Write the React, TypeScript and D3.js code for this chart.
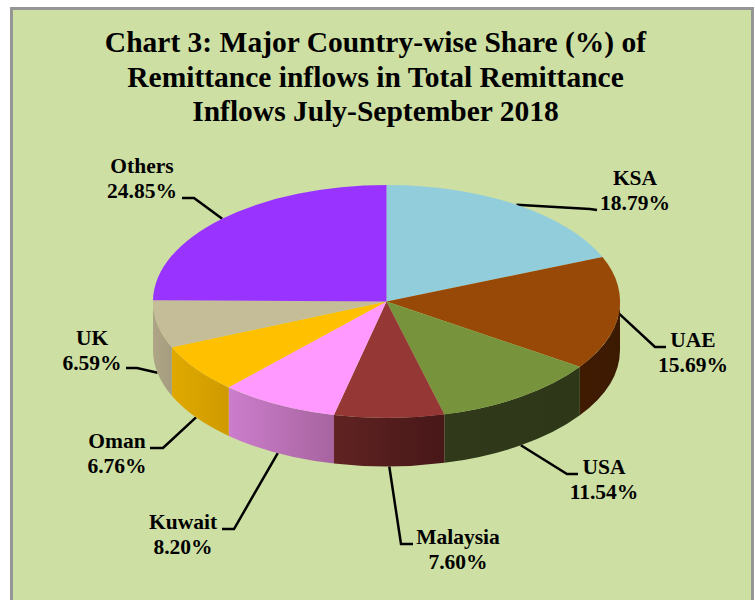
import React from 'react';
import * as d3 from 'd3';

const countries = ['KSA', 'UAE', 'USA', 'Malaysia', 'Kuwait', 'Oman', 'UK', 'Others'];
const shares = [18.79, 15.69, 11.54, 7.6, 8.2, 6.76, 6.59, 24.85];
const topColors = ['#92cddc', '#984807', '#77933c', '#953735', '#ff99ff', '#ffc000', '#c4bd97', '#9933ff'];
const wallFrom = ['#92cddc', '#401b02', '#30391a', '#602322', '#cc7dcc', '#e0a900', '#ada585', '#9933ff'];
const wallTo = ['#92cddc', '#3c1a02', '#2e3718', '#481718', '#a7649f', '#cf9a00', '#a59d7f', '#9933ff'];
const titleLines = [
  'Chart 3: Major Country-wise Share (%) of',
  'Remittance inflows in Total Remittance',
  'Inflows July-September 2018'
];

const width = 755;
const height = 600;
const cx = 386.5;
const cy = 301.5;
const rx = 233.5;
const ry = 116.5;
const depth = 48.5;

// leader elbow + end, label centre/baseline, and whether the leader starts on the side wall
const labelLayout = [
  { elbow: [590, 209], end: [597, 210], x: 635, y: 185, wall: false },
  { elbow: [655, 347], end: [666, 347], x: 693, y: 347, wall: false },
  { elbow: [567, 474], end: [578, 474], x: 604, y: 474, wall: true },
  { elbow: [401, 544], end: [413, 544], x: 458, y: 544, wall: true },
  { elbow: [234, 529], end: [222, 529], x: 183, y: 529, wall: true },
  { elbow: [163, 448], end: [150, 448], x: 117, y: 448, wall: true },
  { elbow: [137, 368], end: [126, 368], x: 92, y: 345, wall: true },
  { elbow: [194, 198], end: [182, 198], x: 142, y: 173, wall: false }
];

const edge = (a: number, dy = 0): [number, number] => [
  cx + rx * Math.sin(a),
  cy - ry * Math.cos(a) + dy
];

export default function App() {
  const slices = d3.pie<number>().sort(null).value(d => d)(shares);
  const arc = d3.arc<d3.PieArcDatum<number>>().innerRadius(0).outerRadius(1);

  const walls = slices
    .map((s, i) => ({ i, a0: Math.max(s.startAngle, Math.PI / 2), a1: Math.min(s.endAngle, 1.5 * Math.PI) }))
    .filter(w => w.a1 > w.a0);

  const wallPath = (a0: number, a1: number) => {
    const p0 = edge(a0);
    const p1 = edge(a1);
    const big = a1 - a0 > Math.PI ? 1 : 0;
    return `M${p0}A${rx},${ry} 0 ${big} 1 ${p1}L${p1[0]},${p1[1] + depth}A${rx},${ry} 0 ${big} 0 ${p0[0]},${p0[1] + depth}Z`;
  };

  return (
    <svg width={width} height={height} style={{ position: 'absolute', left: 0, top: 0, fontFamily: '"Liberation Serif"', fontWeight: 700 }}>
      <defs>
        {walls.map(w => (
          <linearGradient key={w.i} id={`wall${w.i}`} x1="0" x2="1" y1="0" y2="0">
            <stop offset="0" stopColor={wallFrom[w.i]} />
            <stop offset="1" stopColor={wallTo[w.i]} />
          </linearGradient>
        ))}
      </defs>
      <rect x={11.5} y={8.5} width={741} height={600} fill="#cddfa3" stroke="#969696" strokeWidth={3} />

      {titleLines.map((t, i) => (
        <text key={t} x={375.5} y={52 + i * 34.5} textAnchor="middle" fontSize={29.5}>{t}</text>
      ))}

      {slices.map((s, i) => {
        const mid = (s.startAngle + s.endAngle) / 2;
        const l = labelLayout[i];
        const start = edge(mid, l.wall ? depth : 0);
        return (
          <path key={i} d={d3.line()([start, l.elbow as [number, number], l.end as [number, number]]) as string}
            fill="none" stroke="#000" strokeWidth={2.5} />
        );
      })}

      {walls.map(w => (
        <path key={w.i} d={wallPath(w.a0, w.a1)} fill={`url(#wall${w.i})`} />
      ))}
      <g transform={`translate(${cx},${cy}) scale(${rx},${ry})`}>
        {slices.map((s, i) => (
          <path key={i} d={arc(s) as string} fill={topColors[i]} />
        ))}
      </g>

      {countries.map((c, i) => (
        <text key={c} x={labelLayout[i].x} y={labelLayout[i].y} textAnchor="middle" fontSize={21.5}>
          <tspan x={labelLayout[i].x}>{c}</tspan>
          <tspan x={labelLayout[i].x} dy={25}>{shares[i].toFixed(2)}%</tspan>
        </text>
      ))}
    </svg>
  );
}
